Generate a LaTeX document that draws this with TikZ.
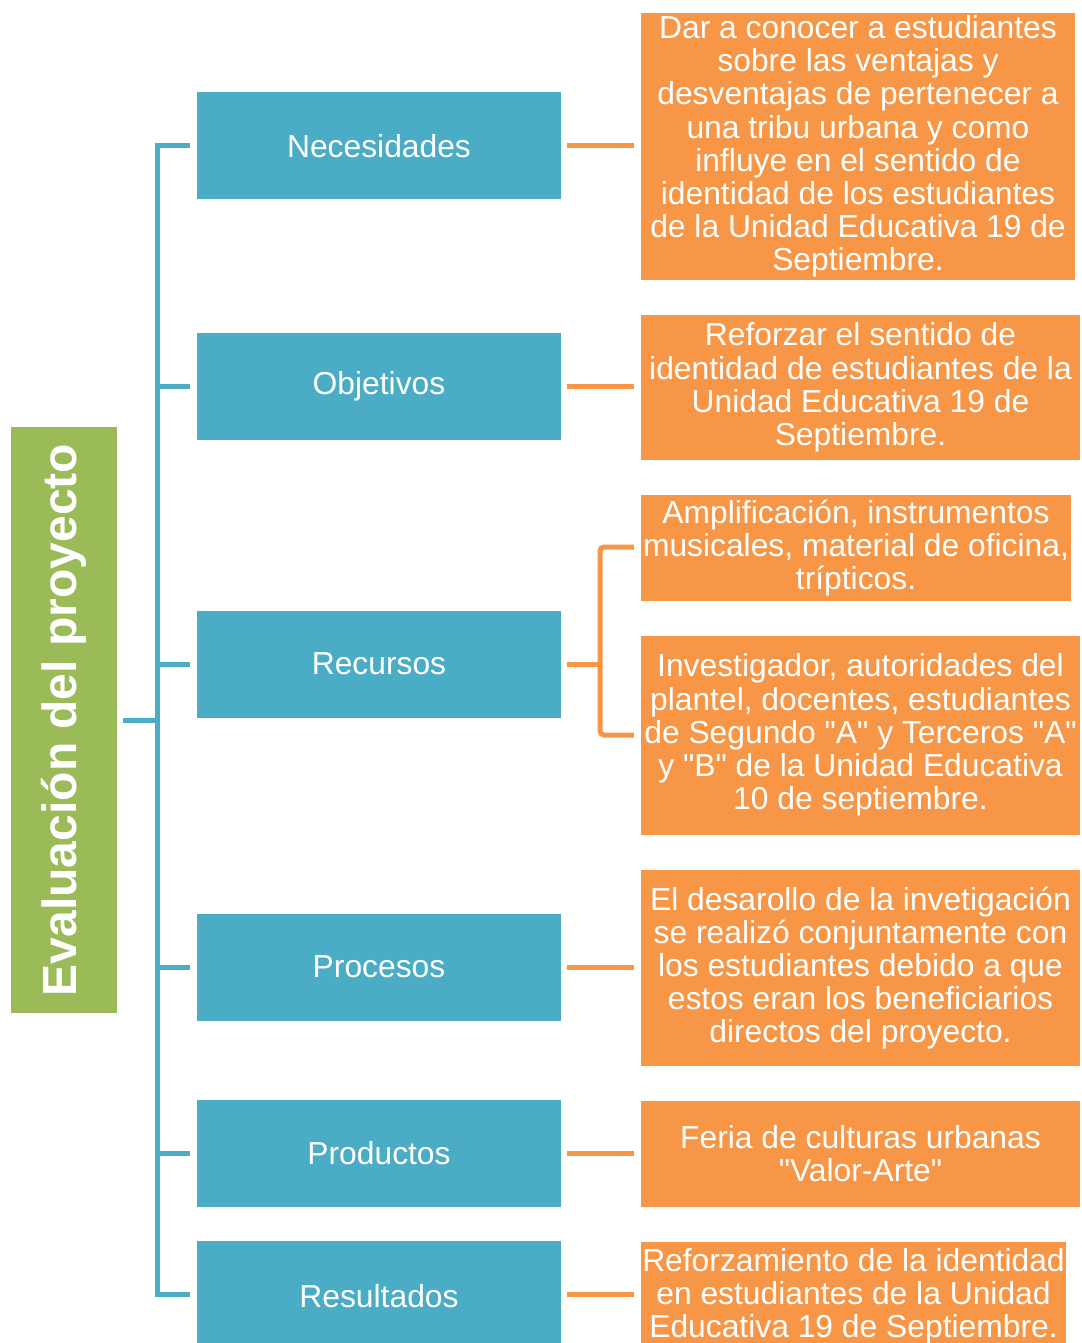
\documentclass[tikz,border=0pt]{standalone}
\usepackage{fontspec}
\setmainfont{Liberation Sans}[Ligatures=TeXOff]
\definecolor{cgreen}{HTML}{9BBB59}
\definecolor{cblue}{HTML}{4BACC6}
\definecolor{corange}{HTML}{F79646}
\tikzset{
  bluebox/.style={fill=cblue, text=white, minimum width=364pt, minimum height=107pt, inner sep=0pt, font=\fontsize{31.8}{33.2}\selectfont},
  orangebox/.style={fill=corange, text=white, inner sep=0pt, align=center, font=\fontsize{31.8}{33.2}\selectfont},
  blueline/.style={draw=cblue, line width=5pt},
  orangeline/.style={draw=corange, line width=5pt},
}
\begin{document}
\begin{tikzpicture}[x=1pt,y=-1pt]
\useasboundingbox (0,0) rectangle (1081,1343);
\clip (0,0) rectangle (1081,1343);
\fill[white] (0,0) rectangle (1081,1343);
% green root
\node[fill=cgreen, minimum width=106pt, minimum height=586pt, inner sep=0pt] (root) at (64,720) {};
\node[rotate=90, text=white, font=\fontsize{48}{50}\selectfont\bfseries] (roottext) at (64,720) {Evaluación del proyecto};
% blue boxes
\node[bluebox] (nec) at (379,146) {Necesidades};
\node[bluebox] (obj) at (379,386.5) {Objetivos};
\node[bluebox] (rec) at (379,664) {Recursos};
\node[bluebox] (pro) at (379,967) {Procesos};
\node[bluebox] (prd) at (379,1153) {Productos};
\node[bluebox, minimum height=110pt] (res) at (379,1296) {Resultados};
% trunk
\coordinate (jroot) at (157,720);
\coordinate (jtop) at (157,146);
\coordinate (jbot) at (157,1294);
\draw[blueline] (jtop) -- (jbot);
\draw[blueline] (root.east |- jroot) ++(6,0) -- (jroot);
\foreach \n/\y in {nec/146,obj/386.5,rec/664,pro/967,prd/1153,res/1294}{
  \draw[blueline] (155,\y) -- (190,\y);
}
% orange boxes
\node[orangebox, minimum width=434pt, minimum height=267pt] (o1) at (858,146.5) {Dar a conocer a estudiantes\\sobre las ventajas y\\desventajas de pertenecer a\\una tribu urbana y como\\influye en el sentido de\\identidad de los estudiantes\\de la Unidad Educativa 19 de\\Septiembre.};
\node[orangebox, minimum width=439pt, minimum height=145pt] (o2) at (860.5,387.5) {Reforzar el sentido de\\identidad de estudiantes de la\\Unidad Educativa 19 de\\Septiembre.};
\node[orangebox, minimum width=430pt, minimum height=106pt] (o3) at (856,548) {Amplificación, instrumentos\\musicales, material de oficina,\\trípticos.};
\node[orangebox, minimum width=439pt, minimum height=199pt] (o4) at (860.5,735) {Investigador, autoridades del\\plantel, docentes, estudiantes\\de Segundo "A" y Terceros "A"\\y "B" de la Unidad Educativa\\10 de septiembre.};
\node[orangebox, minimum width=439pt, minimum height=196pt] (o5) at (860.5,968) {El desarollo de la invetigación\\se realizó conjuntamente con\\los estudiantes debido a que\\estos eran los beneficiarios\\directos del proyecto.};
\node[orangebox, minimum width=439pt, minimum height=106pt] (o6) at (860.5,1154) {Feria de culturas urbanas\\"Valor-Arte"};
\node[orangebox, minimum width=425pt, minimum height=110pt] (o7) at (853.5,1296.5) {Reforzamiento de la identidad\\en estudiantes de la Unidad\\Educativa 19 de Septiembre.};
% orange connectors
\draw[orangeline] (nec.east) ++(6,0) -- ([xshift=-7pt]o1.west |- nec.east);
\draw[orangeline] (obj.east) ++(6,0) -- ([xshift=-7pt]o2.west |- obj.east);
\draw[orangeline] (pro.east) ++(6,0) -- ([xshift=-7pt]o5.west |- pro.east);
\draw[orangeline] (prd.east) ++(6,0) -- ([xshift=-7pt]o6.west |- prd.east);
\draw[orangeline] (res.east |- jbot) ++(6,0) -- ([xshift=-7pt]o7.west |- jbot);
\coordinate (rbr) at (600,664);
\draw[orangeline] (rec.east) ++(6,0) -- (rbr);
\draw[orangeline, rounded corners=4pt] ([xshift=-7pt]o3.west |- 0,547) -- (600,547) -- (600,735) -- ([xshift=-7pt]o4.west |- 0,735);
\end{tikzpicture}
\end{document}
